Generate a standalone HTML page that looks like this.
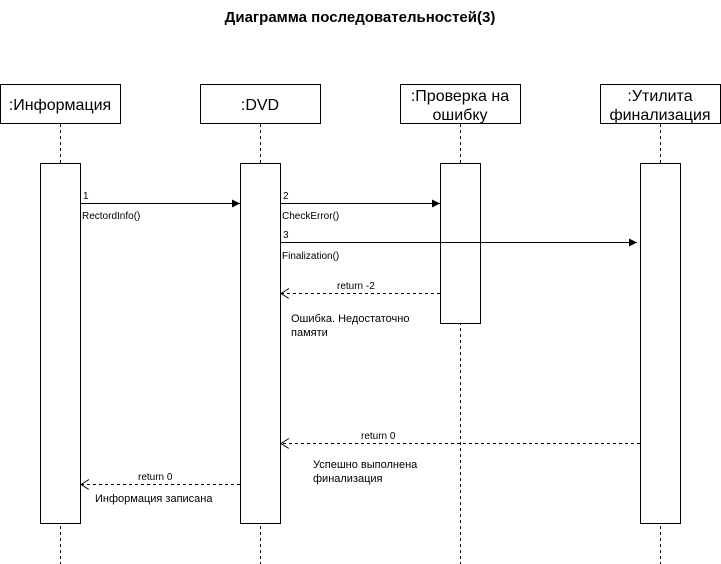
<!DOCTYPE html>
<html><head><meta charset="utf-8"><style>body{margin:0;background:#fff}svg{display:block}</style></head><body>
<svg width="721" height="564" xmlns="http://www.w3.org/2000/svg" font-family="Liberation Sans, Arial, sans-serif">
<defs><marker id="a" markerWidth="10" markerHeight="10" refX="8" refY="4" orient="auto" markerUnits="userSpaceOnUse"><path d="M0,0 L8,4 L0,8 Z" fill="#000"/></marker>
<marker id="o" markerWidth="12" markerHeight="12" refX="9" refY="5" orient="auto" markerUnits="userSpaceOnUse"><path d="M1,0 L9,5 L1,10" fill="none" stroke="#000"/></marker></defs>
<text x="360" y="22" text-anchor="middle" font-weight="bold" font-size="15">Диаграмма последовательностей(3)</text>
<g stroke="#000" stroke-dasharray="3,3" fill="none">
<line x1="60.5" y1="124" x2="60.5" y2="564"/><line x1="260.5" y1="124" x2="260.5" y2="564"/>
<line x1="460.5" y1="124" x2="460.5" y2="564"/><line x1="660.5" y1="124" x2="660.5" y2="564"/></g>
<g stroke="#000" fill="#fff">
<rect x="0.5" y="84.5" width="120" height="39"/><rect x="200.5" y="84.5" width="120" height="39"/>
<rect x="400.5" y="84.5" width="120" height="39"/><rect x="600.5" y="84.5" width="120" height="39"/>
<rect x="40.5" y="163.5" width="40" height="360"/><rect x="240.5" y="163.5" width="40" height="360"/>
<rect x="440.5" y="163.5" width="40" height="160"/><rect x="640.5" y="163.5" width="40" height="360"/></g>
<g font-size="16" text-anchor="middle">
<text x="60" y="110">:Информация</text><text x="260" y="110">:DVD</text>
<text x="460" y="101">:Проверка на</text><text x="460" y="120">ошибку</text>
<text x="660" y="101">:Утилита</text><text x="660" y="120">финализация</text></g>
<g stroke="#000" fill="none">
<line x1="81" y1="203.5" x2="240" y2="203.5" marker-end="url(#a)"/>
<line x1="281" y1="203.5" x2="440" y2="203.5" marker-end="url(#a)"/>
<line x1="281" y1="242.5" x2="637" y2="242.5" marker-end="url(#a)"/>
<line x1="440" y1="293.5" x2="281" y2="293.5" stroke-dasharray="3,3" marker-end="url(#o)"/>
<line x1="640" y1="443.5" x2="281" y2="443.5" stroke-dasharray="3,3" marker-end="url(#o)"/>
<line x1="240" y1="484.5" x2="81" y2="484.5" stroke-dasharray="3,3" marker-end="url(#o)"/></g>
<g font-size="10">
<text x="83" y="199">1</text><text x="82" y="219">RectordInfo()</text>
<text x="283" y="199">2</text><text x="282" y="219">CheckError()</text>
<text x="283" y="238">3</text><text x="282" y="259">Finalization()</text>
<text x="337" y="289">return -2</text>
<text x="361" y="439">return 0</text>
<text x="138" y="480">return 0</text></g>
<g font-size="11">
<text x="291" y="322">Ошибка. Недостаточно</text><text x="291" y="336">памяти</text>
<text x="313" y="468">Успешно выполнена</text><text x="313" y="482">финализация</text>
<text x="95" y="502">Информация записана</text></g>
</svg></body></html>
